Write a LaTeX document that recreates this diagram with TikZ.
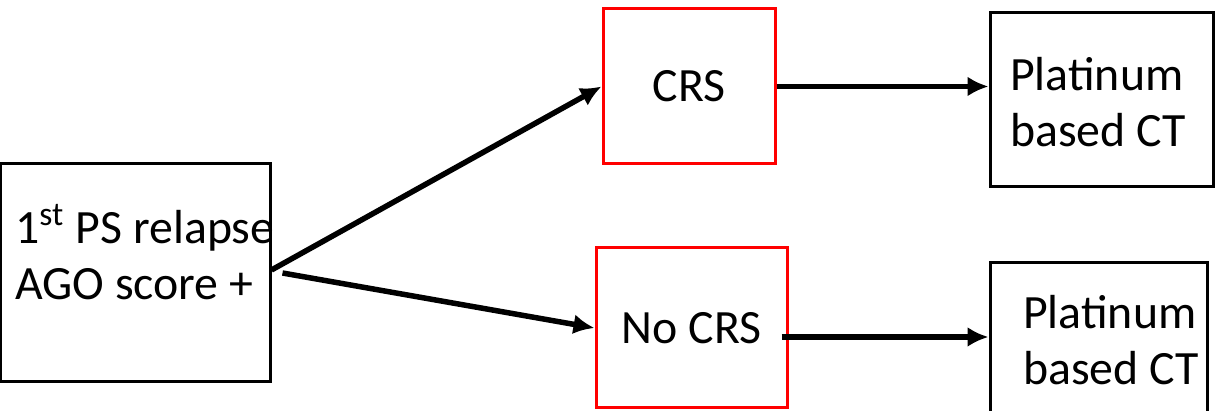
\documentclass[tikz,border=0pt]{standalone}
\usepackage{fontspec}
\setmainfont{Carlito}
\usetikzlibrary{arrows.meta,calc}

\begin{document}
\begin{tikzpicture}
        \tikzstyle{every node}=[font=\fontsize{13.6}{15.9}\selectfont]
        \tikzstyle{box}=[draw=black,line width=.03cm,inner sep=0pt]
        \tikzstyle{redbox}=[draw=red,line width=.03cm,inner sep=0pt]
        \tikzstyle{txt}=[draw=none,align=left,inner sep=0pt]
        \tikzstyle{arr}=[line width=.055cm,-{Latex[length=.21cm,width=.2cm]}]

        \useasboundingbox (0,0) rectangle (12.16,-4.11);

        % boxes
        \node[box,minimum width=2.69cm,minimum height=2.18cm] at (1.355,-2.73) (ps) {};
        \node[redbox,minimum width=1.72cm,minimum height=1.55cm] at (6.89,-0.865) (crs) {CRS};
        \node[redbox,minimum width=1.91cm,minimum height=1.60cm] at (6.915,-3.28) (nocrs) {No CRS};
        \node[box,minimum width=2.23cm,minimum height=1.74cm] at (11.015,-1.00) (plat1) {};
        \node[box,minimum width=2.17cm,minimum height=1.52cm] at (10.985,-3.39) (plat2) {};

        %label the boxes
        \node[txt,anchor=west,xshift=.15cm,yshift=.21cm] at (ps.west) (ps_label) {1\textsuperscript{st} PS relapse\\AGO score +};
        \node[txt,anchor=west,xshift=.21cm,yshift=-.02cm] at (plat1.west) (plat1_label) {Platinum\\based CT};
        \node[txt,anchor=west,xshift=.34cm,yshift=-.01cm] at (plat2.west) (plat2_label) {Platinum\\based CT};

        \draw[arr] ([yshift=.03cm]ps.east) -- (crs.west);
        \draw[arr] ([xshift=.11cm]ps.east) -- (nocrs.west);
        \draw[arr] (crs.east) -- (crs.east -| plat1.west);
        \draw[arr] ([xshift=-.07cm,yshift=-.09cm]nocrs.east) -- ([yshift=-.09cm]nocrs.east -| plat2.west);
\end{tikzpicture}
\end{document}
